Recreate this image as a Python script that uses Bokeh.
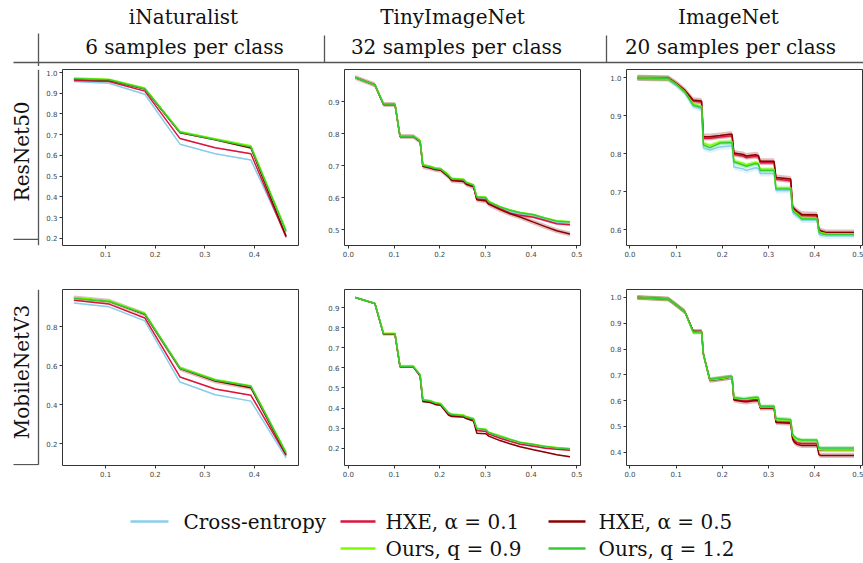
import numpy as np
from bokeh.plotting import figure
from bokeh.layouts import row, column
from bokeh.models import Range1d, FixedTicker, NumeralTickFormatter
from bokeh.core.properties import value
from bokeh.embed import file_html
from bokeh.resources import INLINE

SERIF = "DejaVu Serif"
SANS = "DejaVu Sans"

# ---------------- labels ----------------
series_labels = ["Cross-entropy", "HXE, \u03b1 = 0.1", "HXE, \u03b1 = 0.5", "Ours, q = 0.9", "Ours, q = 1.2"]
series_colors = ["#87CEEB", "#DC143C", "#8B0000", "#7CFC00", "#32CD32"]
dataset_names = ["iNaturalist", "TinyImageNet", "ImageNet"]
sample_labels = ["6 samples per class", "32 samples per class", "20 samples per class"]
model_names = ["ResNet50", "MobileNetV3"]

# ---------------- iNaturalist ----------------
x_inat = [0.036, 0.107, 0.179, 0.250, 0.321, 0.393, 0.464]
inat_r50_ce = [0.957, 0.948, 0.895, 0.654, 0.608, 0.578, 0.212]
inat_r50_h1 = [0.962, 0.957, 0.910, 0.681, 0.637, 0.608, 0.205]
inat_r50_h5 = [0.968, 0.963, 0.920, 0.709, 0.675, 0.636, 0.210]
inat_r50_o9 = [0.973, 0.967, 0.925, 0.715, 0.680, 0.646, 0.240]
inat_r50_o12 = [0.970, 0.965, 0.922, 0.712, 0.677, 0.641, 0.232]

inat_mob_ce = [0.923, 0.903, 0.831, 0.517, 0.452, 0.419, 0.128]
inat_mob_h1 = [0.937, 0.917, 0.846, 0.543, 0.481, 0.449, 0.140]
inat_mob_h5 = [0.949, 0.932, 0.865, 0.586, 0.522, 0.488, 0.145]
inat_mob_o9 = [0.951, 0.934, 0.870, 0.592, 0.530, 0.498, 0.157]
inat_mob_o12 = [0.946, 0.930, 0.867, 0.588, 0.526, 0.495, 0.152]

# ---------------- TinyImageNet ----------------
x_tiny = [0.015, 0.058, 0.077, 0.102, 0.113, 0.142, 0.157, 0.163, 0.179, 0.190, 0.202, 0.219, 0.226,
          0.252, 0.258, 0.274, 0.281, 0.301, 0.307, 0.332, 0.354, 0.376, 0.405, 0.431, 0.456, 0.485]
tiny_r50_ce = [0.975, 0.952, 0.890, 0.890, 0.790, 0.790, 0.775, 0.698, 0.693, 0.688, 0.686, 0.667, 0.656,
               0.653, 0.644, 0.636, 0.598, 0.596, 0.584, 0.567, 0.557, 0.549, 0.543, 0.532, 0.523, 0.520]
tiny_r50_h1 = [0.975, 0.952, 0.891, 0.891, 0.791, 0.791, 0.776, 0.699, 0.694, 0.689, 0.687, 0.667, 0.655,
               0.652, 0.643, 0.635, 0.596, 0.594, 0.582, 0.566, 0.552, 0.545, 0.539, 0.529, 0.519, 0.516]
tiny_r50_h5 = [0.975, 0.952, 0.891, 0.891, 0.791, 0.791, 0.776, 0.698, 0.693, 0.688, 0.686, 0.666, 0.654,
               0.651, 0.642, 0.634, 0.594, 0.590, 0.580, 0.563, 0.550, 0.540, 0.524, 0.510, 0.497, 0.487]
tiny_r50_o9 = [0.975, 0.952, 0.893, 0.893, 0.793, 0.793, 0.778, 0.703, 0.698, 0.693, 0.691, 0.672, 0.661,
               0.658, 0.649, 0.641, 0.604, 0.602, 0.589, 0.572, 0.562, 0.554, 0.548, 0.537, 0.528, 0.525]
tiny_r50_o12 = [0.975, 0.952, 0.892, 0.892, 0.792, 0.792, 0.777, 0.701, 0.696, 0.691, 0.689, 0.670, 0.659,
                0.656, 0.647, 0.639, 0.602, 0.600, 0.587, 0.571, 0.561, 0.553, 0.547, 0.536, 0.527, 0.524]

tiny_mob_ce = [0.950, 0.920, 0.765, 0.765, 0.604, 0.604, 0.558, 0.432, 0.427, 0.418, 0.414, 0.370, 0.362,
               0.356, 0.349, 0.338, 0.290, 0.285, 0.272, 0.253, 0.237, 0.223, 0.213, 0.203, 0.197, 0.192]
tiny_mob_h1 = [0.950, 0.920, 0.768, 0.768, 0.606, 0.606, 0.560, 0.435, 0.430, 0.420, 0.416, 0.372, 0.364,
               0.358, 0.351, 0.340, 0.288, 0.283, 0.270, 0.250, 0.234, 0.220, 0.210, 0.200, 0.195, 0.190]
tiny_mob_h5 = [0.950, 0.920, 0.768, 0.768, 0.606, 0.606, 0.560, 0.432, 0.428, 0.418, 0.414, 0.365, 0.358,
               0.355, 0.348, 0.335, 0.275, 0.272, 0.260, 0.238, 0.222, 0.207, 0.192, 0.180, 0.168, 0.157]
tiny_mob_o9 = [0.950, 0.920, 0.772, 0.772, 0.610, 0.610, 0.567, 0.443, 0.437, 0.428, 0.423, 0.378, 0.370,
               0.365, 0.358, 0.348, 0.300, 0.295, 0.280, 0.262, 0.245, 0.230, 0.220, 0.210, 0.203, 0.198]
tiny_mob_o12 = [0.950, 0.920, 0.770, 0.770, 0.607, 0.607, 0.565, 0.440, 0.435, 0.425, 0.420, 0.375, 0.368,
                0.362, 0.355, 0.345, 0.298, 0.292, 0.278, 0.259, 0.243, 0.229, 0.219, 0.208, 0.201, 0.197]

# ---------------- ImageNet ----------------
x_img = [0.016, 0.083, 0.101, 0.119, 0.137, 0.155, 0.159, 0.173, 0.195, 0.216, 0.221, 0.225, 0.245, 0.252,
         0.272, 0.278, 0.282, 0.312, 0.316, 0.348, 0.352, 0.356, 0.362, 0.372, 0.405, 0.409, 0.413, 0.425, 0.485]
img_r50_ce = [1.000, 0.998, 0.980, 0.960, 0.925, 0.917, 0.815, 0.810, 0.818, 0.820, 0.820, 0.765, 0.760, 0.756,
              0.763, 0.761, 0.748, 0.748, 0.703, 0.703, 0.645, 0.640, 0.635, 0.625, 0.625, 0.588, 0.585, 0.584, 0.584]
img_r50_h1 = [1.000, 0.999, 0.984, 0.966, 0.939, 0.936, 0.841, 0.841, 0.844, 0.847, 0.847, 0.798, 0.794, 0.790,
              0.793, 0.791, 0.776, 0.776, 0.733, 0.729, 0.656, 0.651, 0.645, 0.637, 0.636, 0.597, 0.594, 0.590, 0.590]
img_r50_h5 = [1.000, 0.999, 0.985, 0.967, 0.941, 0.939, 0.845, 0.845, 0.848, 0.851, 0.851, 0.802, 0.798, 0.794,
              0.797, 0.795, 0.780, 0.780, 0.737, 0.733, 0.660, 0.655, 0.648, 0.640, 0.639, 0.600, 0.597, 0.592, 0.592]
img_r50_o9 = [1.000, 0.998, 0.983, 0.963, 0.930, 0.925, 0.828, 0.822, 0.831, 0.832, 0.832, 0.781, 0.774, 0.771,
              0.777, 0.775, 0.759, 0.759, 0.710, 0.710, 0.654, 0.647, 0.642, 0.630, 0.630, 0.596, 0.592, 0.589, 0.589]
img_r50_o12 = [1.000, 0.998, 0.982, 0.962, 0.928, 0.922, 0.823, 0.816, 0.828, 0.829, 0.829, 0.778, 0.770, 0.767,
               0.774, 0.772, 0.756, 0.756, 0.707, 0.707, 0.652, 0.645, 0.640, 0.628, 0.628, 0.594, 0.590, 0.587, 0.587]

img_mob_ce = [1.000, 0.994, 0.970, 0.944, 0.865, 0.864, 0.775, 0.676, 0.683, 0.688, 0.688, 0.607, 0.602, 0.604,
              0.608, 0.607, 0.575, 0.575, 0.527, 0.524, 0.462, 0.452, 0.445, 0.442, 0.442, 0.415, 0.414, 0.414, 0.414]
img_mob_h1 = [1.000, 0.994, 0.970, 0.944, 0.868, 0.868, 0.780, 0.680, 0.684, 0.690, 0.690, 0.605, 0.600, 0.599,
              0.604, 0.603, 0.572, 0.572, 0.518, 0.515, 0.455, 0.445, 0.436, 0.433, 0.433, 0.408, 0.408, 0.408, 0.408]
img_mob_h5 = [1.000, 0.994, 0.970, 0.944, 0.868, 0.868, 0.780, 0.679, 0.684, 0.690, 0.690, 0.602, 0.596, 0.595,
              0.600, 0.599, 0.571, 0.571, 0.515, 0.512, 0.450, 0.438, 0.430, 0.426, 0.426, 0.390, 0.387, 0.387, 0.387]
img_mob_o9 = [1.000, 0.994, 0.970, 0.944, 0.862, 0.866, 0.780, 0.680, 0.685, 0.690, 0.690, 0.610, 0.605, 0.606,
              0.610, 0.609, 0.575, 0.575, 0.526, 0.524, 0.465, 0.455, 0.447, 0.443, 0.443, 0.410, 0.409, 0.408, 0.408]
img_mob_o12 = [1.000, 0.994, 0.970, 0.944, 0.866, 0.867, 0.780, 0.683, 0.688, 0.692, 0.692, 0.612, 0.607, 0.608,
               0.613, 0.612, 0.578, 0.578, 0.530, 0.526, 0.470, 0.460, 0.452, 0.447, 0.447, 0.416, 0.416, 0.416, 0.416]

# half-width of the shaded spread bands (CE, HXE .1, HXE .5, Ours .9, Ours 1.2)
band_inat_r50 = [0.003, 0.003, 0.004, 0.003, 0.003]
band_inat_mob = [0.003, 0.003, 0.012, 0.003, 0.003]
band_tiny_r50 = [0.004, 0.004, 0.008, 0.003, 0.003]
band_tiny_mob = [0.005, 0.003, 0.003, 0.005, 0.004]
band_img_r50 = [0.008, 0.006, 0.008, 0.006, 0.006]
band_img_mob = [0.008, 0.008, 0.010, 0.008, 0.008]

# ticks
xt_inat = [0.1, 0.2, 0.3, 0.4]
xt_tiny = [0.0, 0.1, 0.2, 0.3, 0.4, 0.5]
yt_inat_r50 = [0.2, 0.3, 0.4, 0.5, 0.6, 0.7, 0.8, 0.9, 1.0]
yt_inat_mob = [0.2, 0.4, 0.6, 0.8]
yt_tiny_r50 = [0.5, 0.6, 0.7, 0.8, 0.9]
yt_tiny_mob = [0.2, 0.3, 0.4, 0.5, 0.6, 0.7, 0.8, 0.9]
yt_img_r50 = [0.6, 0.7, 0.8, 0.9, 1.0]
yt_img_mob = [0.4, 0.5, 0.6, 0.7, 0.8, 0.9, 1.0]


def make_panel(x, ys, bands, xr, yr, xt, yt, w, h, bl, br, bt, bb):
    p = figure(width=w, height=h, x_range=Range1d(*xr), y_range=Range1d(*yr),
               output_backend="svg", toolbar_location=None,
               min_border_left=bl, min_border_right=br, min_border_top=bt, min_border_bottom=bb)
    p.grid.visible = False
    p.outline_line_color = "#333333"
    p.outline_line_width = 1
    p.outline_line_alpha = 1
    p.background_fill_color = "white"
    p.border_fill_color = "white"
    xa = np.array(x)
    for y, bw, c in zip(ys, bands, series_colors):
        ya = np.array(y)
        p.varea(x=xa, y1=ya - bw, y2=ya + bw, fill_color=c, fill_alpha=0.25)
    for y, lab, c in zip(ys, series_labels, series_colors):
        p.line(xa, np.array(y), line_color=c, line_width=1.5)
    p.xaxis.ticker = FixedTicker(ticks=xt)
    p.yaxis.ticker = FixedTicker(ticks=yt)
    p.axis.formatter = NumeralTickFormatter(format="0.0")
    for ax in p.axis:
        ax.axis_line_color = None
        ax.major_tick_out = 3
        ax.major_tick_in = 0
        ax.minor_tick_out = 0
        ax.minor_tick_in = 0
        ax.major_tick_line_color = "#333333"
        ax.major_label_text_font = SANS
        ax.major_label_text_font_size = "7px"
        ax.major_label_text_color = "#444444"
        ax.major_label_standoff = 2
    return p


def deco(x0, x1, y0, y1):
    p = figure(width=x1 - x0, height=y1 - y0, x_range=Range1d(x0, x1), y_range=Range1d(y1, y0),
               output_backend="svg", toolbar_location=None,
               x_axis_location=None, y_axis_location=None,
               min_border_left=0, min_border_right=0, min_border_top=0, min_border_bottom=0)
    p.grid.visible = False
    p.outline_line_color = None
    p.background_fill_color = "white"
    p.border_fill_color = "white"
    return p


LINE_C = "#555555"
FS = value("20px")

# header (page coordinates)
hdr = deco(0, 863, 0, 66)
hdr.text(x=[183, 452, 728], y=[16, 16, 16], text=dataset_names, text_align="center",
         text_baseline="middle", text_font=value(SERIF), text_font_size=FS, text_color="#111111")
hdr.text(x=[184, 456, 730], y=[46, 46, 46], text=sample_labels, text_align="center",
         text_baseline="middle", text_font=value(SERIF), text_font_size=FS, text_color="#111111")
hdr.segment(x0=[13, 38, 324, 606], y0=[62, 33, 35, 35], x1=[863, 38, 324, 606], y1=[62, 66, 62, 62],
            line_color=LINE_C, line_width=1.3)

# row labels
lab1 = deco(0, 40, 66, 268)
lab1.segment(x0=[38, 13], y0=[66, 261], x1=[38, 38], y1=[268, 261], line_color=LINE_C, line_width=1.3)
lab1.text(x=[21], y=[160], text=[model_names[0]], angle=np.pi / 2, text_align="center",
          text_baseline="middle", text_font=value(SERIF), text_font_size=FS, text_color="#111111")

lab2 = deco(0, 40, 268, 490)
lab2.segment(x0=[38, 13], y0=[268, 489], x1=[38, 38], y1=[489, 489], line_color=LINE_C, line_width=1.3)
lab2.text(x=[21], y=[372], text=[model_names[1]], angle=np.pi / 2, text_align="center",
          text_baseline="middle", text_font=value(SERIF), text_font_size=FS, text_color="#111111")

# panels
p1 = make_panel(x_inat, [inat_r50_ce, inat_r50_h1, inat_r50_h5, inat_r50_o9, inat_r50_o12], band_inat_r50,
                (0.013, 0.489), (0.165, 1.0145), xt_inat, yt_inat_r50, 260, 202, 22, 2, 3, 23)
p2 = make_panel(x_tiny, [tiny_r50_ce, tiny_r50_h1, tiny_r50_h5, tiny_r50_o9, tiny_r50_o12], band_tiny_r50,
                (-0.0085, 0.508), (0.451, 1.0), xt_tiny, yt_tiny_r50, 282, 202, 44, 2, 3, 23)
p3 = make_panel(x_img, [img_r50_ce, img_r50_h1, img_r50_h5, img_r50_o9, img_r50_o12], band_img_r50,
                (-0.0075, 0.5055), (0.558, 1.022), xt_tiny, yt_img_r50, 281, 202, 44, 0, 3, 23)
p4 = make_panel(x_inat, [inat_mob_ce, inat_mob_h1, inat_mob_h5, inat_mob_o9, inat_mob_o12], band_inat_mob,
                (0.013, 0.489), (0.0886, 0.992), xt_inat, yt_inat_mob, 260, 222, 22, 2, 21, 25)
p5 = make_panel(x_tiny, [tiny_mob_ce, tiny_mob_h1, tiny_mob_h5, tiny_mob_o9, tiny_mob_o12], band_tiny_mob,
                (-0.0085, 0.508), (0.114, 0.99), xt_tiny, yt_tiny_mob, 282, 222, 44, 2, 21, 25)
p6 = make_panel(x_img, [img_mob_ce, img_mob_h1, img_mob_h5, img_mob_o9, img_mob_o12], band_img_mob,
                (-0.0075, 0.5055), (0.348, 1.031), xt_tiny, yt_img_mob, 281, 222, 44, 0, 21, 25)

# legend
leg = deco(0, 863, 490, 563)
leg_x0 = [130, 340, 548, 340, 548]
leg_x1 = [168, 375, 585, 375, 585]
leg_y = [521, 521, 521, 548, 548]
leg_tx = [183, 385, 598, 385, 598]
for i in range(5):
    leg.line(x=[leg_x0[i], leg_x1[i]], y=[leg_y[i], leg_y[i]], line_color=series_colors[i], line_width=2.5)
leg.text(x=leg_tx, y=leg_y, text=series_labels, text_align="left", text_baseline="middle",
         text_font=value(SERIF), text_font_size=FS, text_color="#111111")

layout = column(hdr, row(lab1, p1, p2, p3), row(lab2, p4, p5, p6), leg)

open("out.html", "w").write(file_html(layout, INLINE))
